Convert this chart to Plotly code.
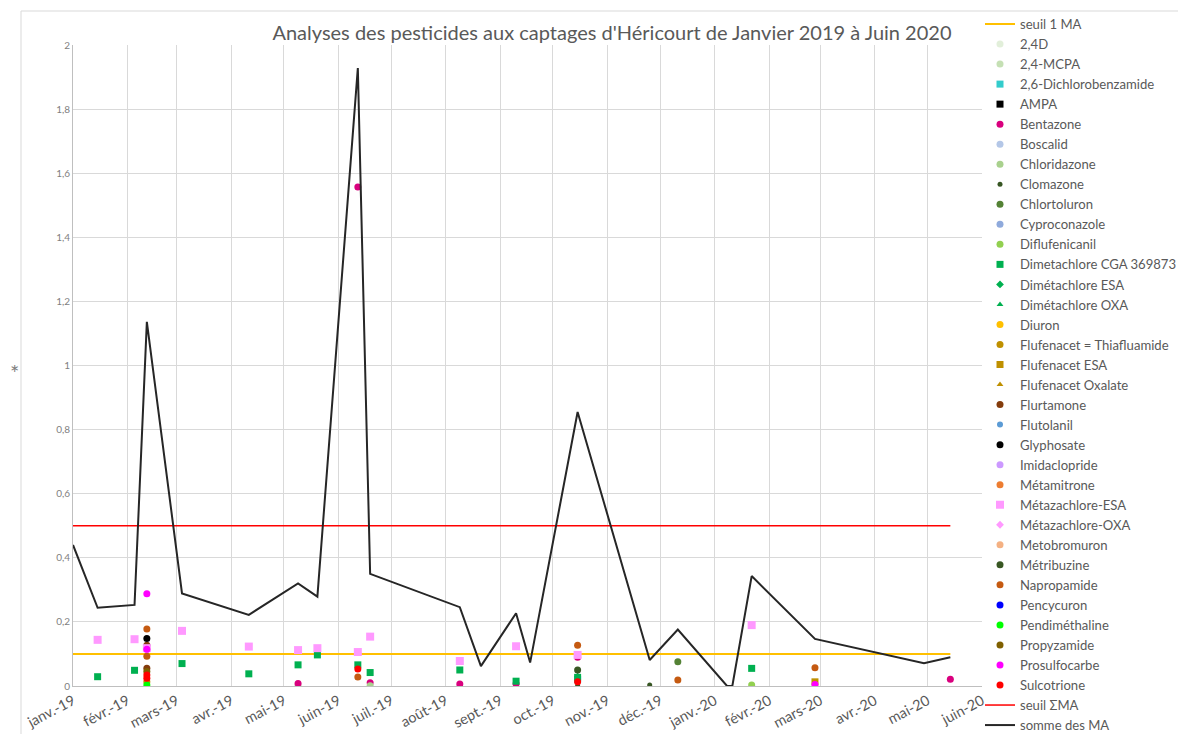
import plotly.graph_objects as go

# ---------------- data ----------------
month_ticks = ["2019-01-01", "2019-02-01", "2019-03-01", "2019-04-01", "2019-05-01", "2019-06-01",
               "2019-07-01", "2019-08-01", "2019-09-01", "2019-10-01", "2019-11-01", "2019-12-01",
               "2020-01-01", "2020-02-01", "2020-03-01", "2020-04-01", "2020-05-01", "2020-06-01"]
month_labels = ["janv.-19", "févr.-19", "mars-19", "avr.-19", "mai-19", "juin-19", "juil.-19",
                "août-19", "sept.-19", "oct.-19", "nov.-19", "déc.-19", "janv.-20", "févr.-20",
                "mars-20", "avr.-20", "mai-20", "juin-20"]
y_ticks = [0, 0.2, 0.4, 0.6, 0.8, 1, 1.2, 1.4, 1.6, 1.8, 2]
y_tick_labels = ["0", "0,2", "0,4", "0,6", "0,8", "1", "1,2", "1,4", "1,6", "1,8", "2"]

threshold_dates = ["2019-01-01", "2020-05-14"]
seuil_1_ma = [0.1, 0.1]
seuil_somme_ma = [0.5, 0.5]

somme_dates = ["2019-01-01", "2019-01-15", "2019-02-05", "2019-02-12", "2019-03-04", "2019-04-11",
               "2019-05-09", "2019-05-20", "2019-06-12", "2019-06-19", "2019-08-09", "2019-08-21",
               "2019-09-10", "2019-09-18", "2019-10-15", "2019-11-25", "2019-12-11", "2020-01-08",
               "2020-01-11", "2020-01-22", "2020-02-27", "2020-04-29", "2020-05-14"]
somme_values = [0.44, 0.244, 0.253, 1.136, 0.289, 0.222, 0.32, 0.279, 1.928, 0.35, 0.246, 0.062,
                0.227, 0.073, 0.855, 0.081, 0.176, 0.0, 0.0, 0.343, 0.147, 0.071, 0.09]

# detections per substance (dates, values)
d_24d = ([], [])
d_24mcpa = (["2019-05-09"], [0.001])
d_26dichlorobenzamide = (["2019-10-15"], [0.02])
d_ampa = ([], [])
d_bentazone = (["2019-05-09", "2019-06-12", "2019-06-19", "2019-08-09", "2019-09-10", "2019-10-15", "2020-05-14"],
               [0.008, 1.557, 0.01, 0.006, 0.007, 0.09, 0.021])
d_boscalid = ([], [])
d_chloridazone = (["2019-06-19"], [0.001])
d_clomazone = (["2019-10-15", "2019-11-25"], [0.001, 0.003])
d_chlortoluron = (["2019-12-11"], [0.076])
d_cyproconazole = ([], [])
d_diflufenicanil = (["2020-01-22"], [0.003])
d_dimetachlore_cga = (["2019-01-15", "2019-02-05", "2019-03-04", "2019-04-11", "2019-05-09", "2019-05-20",
                       "2019-06-12", "2019-06-19", "2019-08-09", "2019-09-10", "2019-10-15", "2020-01-22"],
                      [0.029, 0.049, 0.07, 0.038, 0.066, 0.097, 0.066, 0.042, 0.05, 0.015, 0.027, 0.055])
d_dimetachlore_esa = ([], [])
d_dimetachlore_oxa = (["2019-10-15"], [0.033])
d_diuron = ([], [])
d_flufenacet = (["2019-02-12"], [0.013])
d_flufenacet_esa = (["2020-02-27"], [0.013])
d_flufenacet_oxalate = ([], [])
d_flurtamone = (["2019-02-12", "2019-02-12"], [0.127, 0.055])
d_flutolanil = ([], [])
d_glyphosate = (["2019-02-12"], [0.148])
d_imidaclopride = ([], [])
d_metamitrone = ([], [])
d_metazachlore_esa = (["2019-01-15", "2019-02-05", "2019-02-12", "2019-03-04", "2019-04-11", "2019-05-09",
                       "2019-05-20", "2019-06-12", "2019-06-19", "2019-08-09", "2019-09-10", "2019-10-15",
                       "2020-01-22"],
                      [0.144, 0.146, 0.118, 0.172, 0.123, 0.112, 0.118, 0.106, 0.154, 0.078, 0.124, 0.097, 0.19])
d_metazachlore_oxa = (["2019-02-12"], [0.11])
d_metobromuron = ([], [])
d_metribuzine = (["2019-10-15"], [0.05])
d_napropamide = (["2019-02-12", "2019-02-12", "2019-06-12", "2019-10-15", "2019-12-11", "2020-02-27"],
                 [0.178, 0.093, 0.028, 0.127, 0.019, 0.057])
d_pencycuron = ([], [])
d_pendimethaline = (["2019-02-12"], [0.003])
d_propyzamide = (["2019-02-12"], [0.045])
d_prosulfocarbe = (["2019-02-12", "2019-02-12", "2020-02-27"], [0.288, 0.115, 0.005])
d_sulcotrione = (["2019-02-12", "2019-02-12", "2019-06-12", "2019-10-15"], [0.034, 0.024, 0.053, 0.013])

# ---------------- styles ----------------
series = [
    ("2,4D", d_24d, "#E2EFDA", "circle", 7),
    ("2,4-MCPA", d_24mcpa, "#C5E0B4", "circle", 7),
    ("2,6-Dichlorobenzamide", d_26dichlorobenzamide, "#33CCCC", "square", 7),
    ("AMPA", d_ampa, "#000000", "square", 7),
    ("Bentazone", d_bentazone, "#D9007E", "circle", 7),
    ("Boscalid", d_boscalid, "#B4C7E7", "circle", 7),
    ("Chloridazone", d_chloridazone, "#A9D18E", "circle", 7),
    ("Clomazone", d_clomazone, "#375623", "circle", 5),
    ("Chlortoluron", d_chlortoluron, "#548235", "circle", 7),
    ("Cyproconazole", d_cyproconazole, "#8FAADC", "circle", 7),
    ("Diflufenicanil", d_diflufenicanil, "#92D050", "circle", 7),
    ("Dimetachlore CGA 369873", d_dimetachlore_cga, "#00B050", "square", 7),
    ("Dimétachlore ESA", d_dimetachlore_esa, "#00B050", "diamond", 6),
    ("Dimétachlore OXA", d_dimetachlore_oxa, "#00B050", "triangle-up", 6),
    ("Diuron", d_diuron, "#FFC000", "circle", 7),
    ("Flufenacet = Thiafluamide", d_flufenacet, "#BF9000", "circle", 7),
    ("Flufenacet ESA", d_flufenacet_esa, "#BF9000", "square", 7),
    ("Flufenacet Oxalate", d_flufenacet_oxalate, "#BF9000", "triangle-up", 6),
    ("Flurtamone", d_flurtamone, "#843C0C", "circle", 7),
    ("Flutolanil", d_flutolanil, "#5B9BD5", "circle", 6),
    ("Glyphosate", d_glyphosate, "#000000", "circle", 7),
    ("Imidaclopride", d_imidaclopride, "#CC99FF", "circle", 7),
    ("Métamitrone", d_metamitrone, "#ED7D31", "circle", 7),
    ("Métazachlore-ESA", d_metazachlore_esa, "#FF99FF", "square", 8),
    ("Métazachlore-OXA", d_metazachlore_oxa, "#FF99FF", "diamond", 6),
    ("Metobromuron", d_metobromuron, "#F4B183", "circle", 7),
    ("Métribuzine", d_metribuzine, "#385723", "circle", 7),
    ("Napropamide", d_napropamide, "#C55A11", "circle", 7),
    ("Pencycuron", d_pencycuron, "#0000FF", "circle", 7),
    ("Pendiméthaline", d_pendimethaline, "#00FF00", "circle", 7),
    ("Propyzamide", d_propyzamide, "#7F6000", "circle", 7),
    ("Prosulfocarbe", d_prosulfocarbe, "#FF00FF", "circle", 7),
    ("Sulcotrione", d_sulcotrione, "#FF0000", "circle", 7),
]

FONT = "Lato"
GRAY = "#595959"
OFF = 8  # page body margin
W, H = 1186 - OFF, 734 - OFF
ML, MT = 73 - OFF, 45 - OFF
PW, PH = 909, 641
MR, MB = W - ML - PW, H - MT - PH


def fx(page_px):
    return (page_px - OFF - ML) / PW


def fy(page_py):
    return (MT + PH - (page_py - OFF)) / PH


fig = go.Figure()

fig.add_trace(go.Scatter(x=threshold_dates, y=seuil_1_ma, mode="lines", name="seuil 1 MA",
                         line=dict(color="#FFC000", width=2)))

for name, (dates, values), color, symbol, size in series:
    xs = dates if dates else [None]
    ys = values if values else [None]
    fig.add_trace(go.Scatter(x=xs, y=ys, mode="markers", name=name,
                             marker=dict(color=color, symbol=symbol, size=size, line=dict(width=0))))

fig.add_trace(go.Scatter(x=threshold_dates, y=seuil_somme_ma, mode="lines", name="seuil ΣMA",
                         line=dict(color="#FF0000", width=1.5)))
fig.add_trace(go.Scatter(x=somme_dates, y=somme_values, mode="lines", name="somme des MA",
                         line=dict(color="#262626", width=2)))

fig.update_layout(
    width=W, height=H,
    margin=dict(l=ML, r=MR, t=MT, b=MB, autoexpand=False),
    paper_bgcolor="white", plot_bgcolor="white",
    font=dict(family=FONT, color=GRAY),
    title=dict(text="Analyses des pesticides aux captages d'Héricourt de Janvier 2019 à Juin 2020",
               x=fx(612), xref="paper", xanchor="center", y=1 - (33 - OFF) / H, yanchor="middle",
               font=dict(family=FONT, size=20, color=GRAY)),
    showlegend=True,
    legend=dict(xref="container", yref="container", x=(980 - OFF) / W, xanchor="left",
                y=1 - (9 - OFF) / H, yanchor="top", maxheight=2000,
                font=dict(family=FONT, size=13.1, color=GRAY), bgcolor="rgba(0,0,0,0)",
                tracegroupgap=0, itemwidth=30),
    xaxis=dict(type="date", range=["2019-01-01", "2020-06-01"], tickmode="array",
               tickvals=month_ticks, ticktext=month_labels, tickangle=-28,
               tickfont=dict(family=FONT, size=14.5, color=GRAY),
               showgrid=True, gridcolor="#D9D9D9", gridwidth=1,
               showline=True, linecolor="#BFBFBF", linewidth=1, ticks="", zeroline=False),
    yaxis=dict(range=[0, 2], tickmode="array", tickvals=y_ticks, ticktext=y_tick_labels,
               tickfont=dict(family=FONT, size=10, color="#7F7F7F"),
               showgrid=True, gridcolor="#D9D9D9", gridwidth=1,
               showline=True, linecolor="#BFBFBF", linewidth=1, ticks="", zeroline=False),
    shapes=[dict(type="rect", xref="paper", yref="paper",
                 x0=fx(21), x1=fx(1200), y0=fy(750), y1=fy(11),
                 line=dict(color="#D9D9D9", width=1), fillcolor="rgba(0,0,0,0)", layer="below")],
    annotations=[dict(text="*", xref="paper", yref="paper", x=fx(14), y=fy(372),
                      showarrow=False, font=dict(family=FONT, size=22, color="#7F7F7F"),
                      xanchor="center", yanchor="middle")],
)

fig.write_html("out.html")
